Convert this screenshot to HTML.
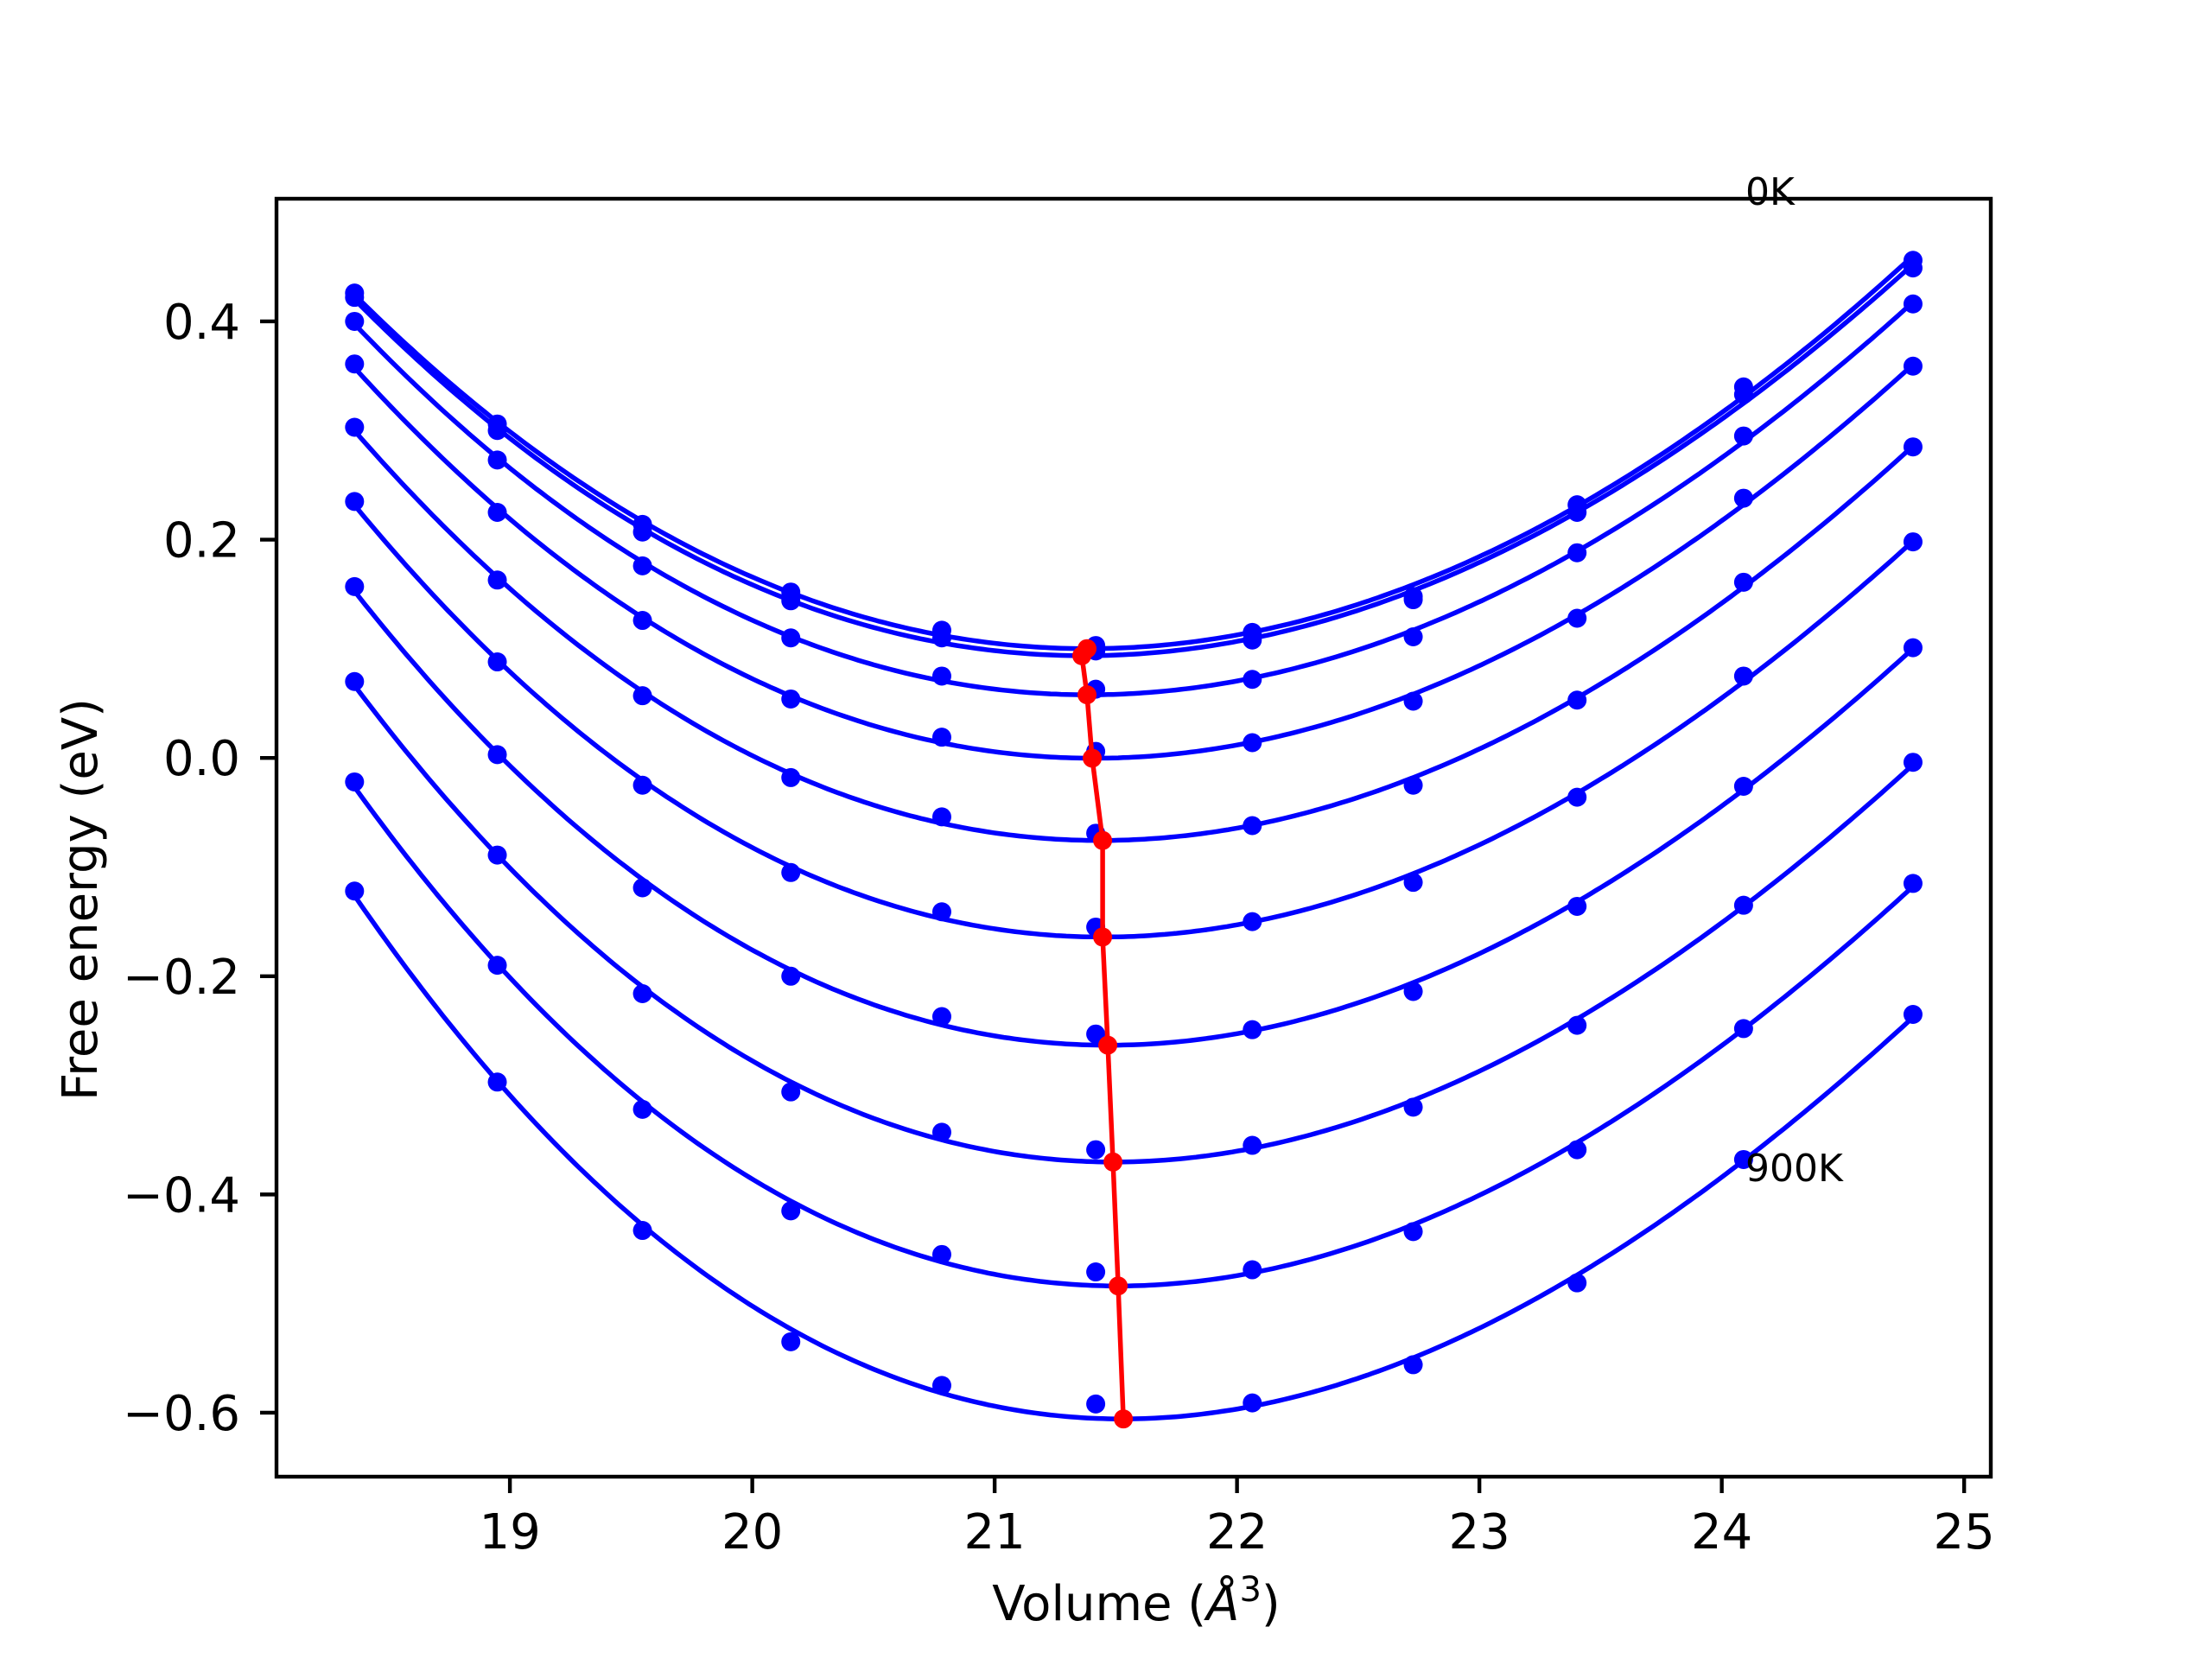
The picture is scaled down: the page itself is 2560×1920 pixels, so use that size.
<!DOCTYPE html>
<html><head><meta charset="utf-8"><style>
html,body{margin:0;padding:0;background:#fff}
svg{display:block;font-family:"DejaVu Sans","Liberation Sans",sans-serif}
</style></head><body>
<svg id="chart" xmlns="http://www.w3.org/2000/svg" width="2560" height="1920" viewBox="0 0 2560 1920">
<rect width="2560" height="1920" fill="#fff"/>
<g id="plot"></g>
<rect x="320" y="230" width="1984" height="1479" fill="none" stroke="#000" stroke-width="4.4"/>
<g id="ticks"></g>
<text x="1315" y="1875" font-size="56" text-anchor="middle">Volume (<tspan font-style="italic">Å</tspan><tspan font-size="40" dy="-22">3</tspan><tspan dy="22">)</tspan></text>
<text x="0" y="0" font-size="56" text-anchor="middle" transform="translate(112,1041) rotate(-90)">Free energy (eV)</text>
<text x="2020" y="237" font-size="44">0K</text>
<text x="2020" y="1367" font-size="44">900K</text>
</svg>
<script>
const volumes=[18.359,18.948,19.547,20.159,20.782,21.417,22.063,22.727,23.403,24.090,24.789];
const temps=[0,100,200,300,400,500,600,700,800,900];
const e0=[0.426,0.306,0.214,0.152,0.117,0.103,0.115,0.148,0.232,0.340,0.456];
const e100=[0.422,0.300,0.207,0.144,0.110,0.098,0.108,0.145,0.225,0.333,0.449];
const e200=[0.400,0.273,0.176,0.110,0.075,0.063,0.072,0.111,0.188,0.295,0.416];
const e300=[0.361,0.225,0.126,0.054,0.019,0.006,0.014,0.052,0.128,0.238,0.359];
const e400=[0.303,0.163,0.057,-0.018,-0.054,-0.069,-0.062,-0.025,0.053,0.161,0.285];
const e500=[0.235,0.088,-0.025,-0.105,-0.141,-0.155,-0.150,-0.114,-0.036,0.075,0.198];
const e600=[0.157,0.003,-0.119,-0.200,-0.237,-0.253,-0.249,-0.214,-0.136,-0.026,0.101];
const e700=[0.070,-0.089,-0.216,-0.306,-0.343,-0.359,-0.355,-0.320,-0.245,-0.135,-0.004];
const e800=[-0.022,-0.190,-0.322,-0.415,-0.455,-0.471,-0.469,-0.434,-0.359,-0.248,-0.115];
const e900=[-0.122,-0.297,-0.433,-0.535,-0.575,-0.592,-0.591,-0.556,-0.481,-0.368,-0.235];
const energies=[e0,e100,e200,e300,e400,e500,e600,e700,e800,e900];
const xTicks=[19,20,21,22,23,24,25];
const yTicks=[0.4,0.2,0.0,-0.2,-0.4,-0.6];
const yTickLabels=["0.4","0.2","0.0","\u22120.2","\u22120.4","\u22120.6"];

const X0=320,X1=2304,Y0=230,Y1=1709,xmin=18.037,xmax=25.11,ymin=-0.6586,ymax=0.5124;
const sx=v=>X0+(v-xmin)/(xmax-xmin)*(X1-X0);
const sy=v=>Y1-(v-ymin)/(ymax-ymin)*(Y1-Y0);
const NS="http://www.w3.org/2000/svg";
const plot=document.getElementById('plot'), ticks=document.getElementById('ticks');
function mk(tag,attrs,parent){const e=document.createElementNS(NS,tag);for(const k in attrs)e.setAttribute(k,attrs[k]);parent.appendChild(e);return e;}

// cubic least squares fit
function fit(xs,ys){
  const m=xs.reduce((a,b)=>a+b)/xs.length;
  const n=4,A=[...Array(n)].map(()=>Array(n+1).fill(0));
  xs.forEach((x,i)=>{const t=x-m;const p=[1,t,t*t,t*t*t];
    for(let r=0;r<n;r++){for(let c=0;c<n;c++)A[r][c]+=p[r]*p[c];A[r][n]+=p[r]*ys[i];}});
  for(let i=0;i<n;i++){let mx=i;for(let r=i+1;r<n;r++)if(Math.abs(A[r][i])>Math.abs(A[mx][i]))mx=r;
    [A[i],A[mx]]=[A[mx],A[i]];
    for(let r=0;r<n;r++)if(r!==i){const f=A[r][i]/A[i][i];for(let c=i;c<=n;c++)A[r][c]-=f*A[i][c];}}
  const co=A.map((row,i)=>row[n]/row[i]);
  return x=>{const t=x-m;return co[0]+co[1]*t+co[2]*t*t+co[3]*t*t*t;};
}

const minX=[],minY=[];
energies.forEach((ys,k)=>{
  const f=fit(volumes,ys);
  const a=volumes[0],b=volumes[volumes.length-1];
  let d='';let bx=a,by=Infinity;
  for(let i=0;i<=300;i++){const x=a+(b-a)*i/300,y=f(x);d+=(i?'L':'M')+sx(x).toFixed(1)+','+sy(y).toFixed(1);if(y<by){by=y;bx=x;}}
  minX.push(bx);minY.push(by);
  const p=mk('path',{d:d,fill:'none',stroke:'#0000ff','stroke-width':5.5},plot);
  
  
  ys.forEach((y,i)=>{
    const c=mk('circle',{cx:sx(volumes[i]),cy:sy(y),r:11,fill:'#0000ff'},plot);
    
    
  });
});
let md='';minX.forEach((x,i)=>{md+=(i?'L':'M')+sx(x).toFixed(1)+','+sy(minY[i]).toFixed(1);});
const ml=mk('path',{d:md,fill:'none',stroke:'#ff0000','stroke-width':5.5},plot);


minX.forEach((x,i)=>{
  const c=mk('circle',{cx:sx(x),cy:sy(minY[i]),r:11,fill:'#ff0000'},plot);
  
  
});
xTicks.forEach(v=>{
  const l=mk('line',{x1:sx(v),x2:sx(v),y1:Y1,y2:Y1+19,stroke:'#000','stroke-width':4.4},ticks);
  
  
  const t=mk('text',{x:sx(v),y:Y1+83,'font-size':56,'text-anchor':'middle'},ticks);
  
  
  t.textContent=String(v);
});
yTicks.forEach((v,i)=>{
  const l=mk('line',{x1:X0-19,x2:X0,y1:sy(v),y2:sy(v),stroke:'#000','stroke-width':4.4},ticks);
  
  
  const t=mk('text',{x:X0-42,y:sy(v)+20,'font-size':56,'text-anchor':'end'},ticks);
  
  
  t.textContent=yTickLabels[i];
});
</script>
</body></html>
